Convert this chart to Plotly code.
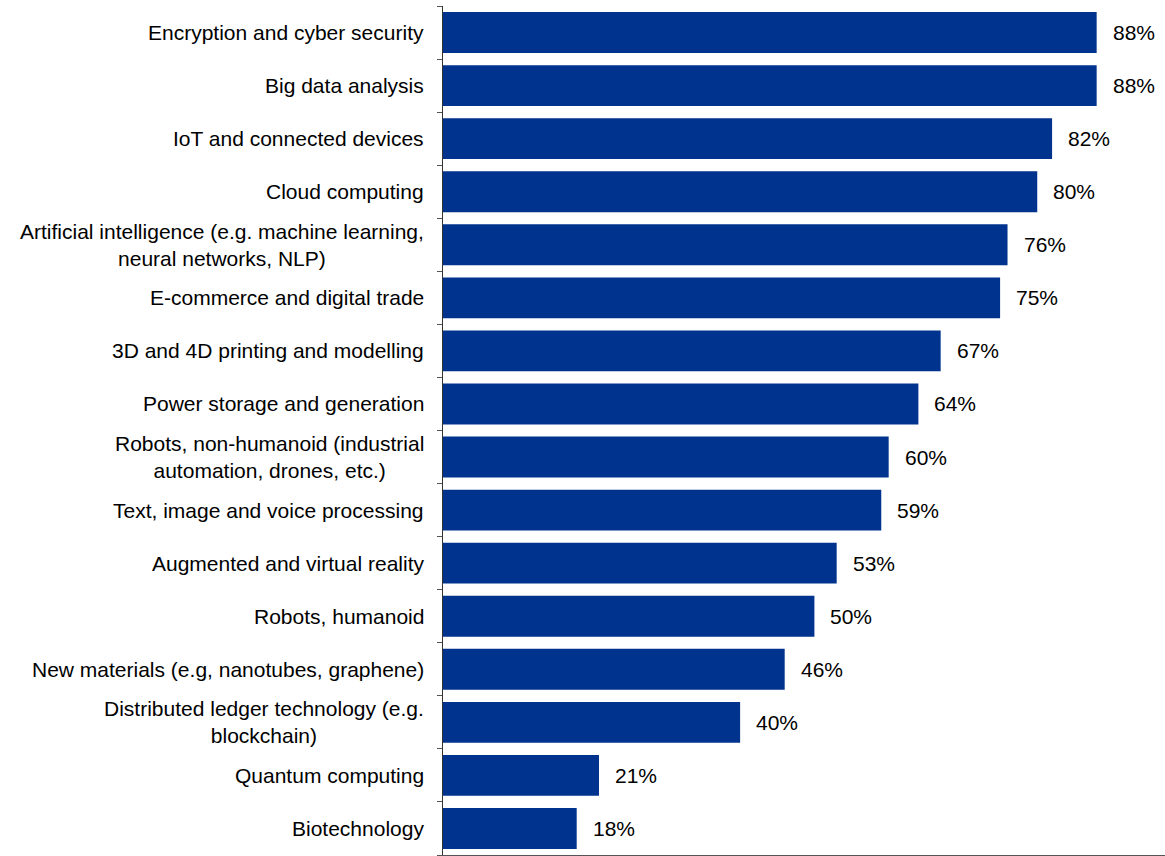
import plotly.graph_objects as go

# Share of respondents per technology (%)
categories = [
    "Encryption and cyber security",
    "Big data analysis",
    "IoT and connected devices",
    "Cloud computing",
    "Artificial intelligence (e.g. machine learning,<br>neural networks, NLP)",
    "E-commerce and digital trade",
    "3D and 4D printing and modelling",
    "Power storage and generation",
    "Robots, non-humanoid (industrial<br>automation, drones, etc.)",
    "Text, image and voice processing",
    "Augmented and virtual reality",
    "Robots, humanoid",
    "New materials (e.g, nanotubes, graphene)",
    "Distributed ledger technology (e.g.<br>blockchain)",
    "Quantum computing",
    "Biotechnology",
]
values = [88, 88, 82, 80, 76, 75, 67, 64, 60, 59, 53, 50, 46, 40, 21, 18]

BAR_COLOR = "#00338D"
FONT = dict(family="Liberation Sans, Arial, sans-serif", size=21, color="#000000")

positions = list(range(len(categories)))

fig = go.Figure(
    go.Bar(
        x=values,
        y=positions,
        orientation="h",
        width=0.77,
        marker=dict(color=BAR_COLOR, line=dict(width=0)),
        hoverinfo="skip",
    )
)

annotations = []
for pos, cat, val in zip(positions, categories, values):
    # category name, right-aligned against the axis, multi-line centred
    annotations.append(dict(
        x=0, xref="paper", y=pos, yref="y",
        text=cat, showarrow=False, xanchor="right", yanchor="middle",
        align="center", xshift=-17, font=FONT,
    ))
    # value label just past the bar end
    annotations.append(dict(
        x=val, xref="x", y=pos, yref="y",
        text=f"{val}%", showarrow=False, xanchor="left", yanchor="middle",
        xshift=14, font=FONT,
    ))

fig.update_layout(
    width=1165,
    height=856,
    margin=dict(l=443, r=0, t=6, b=1),
    paper_bgcolor="white",
    plot_bgcolor="white",
    showlegend=False,
    annotations=annotations,
    font=FONT,
)

fig.update_xaxes(
    range=[0, 97.2],
    showgrid=False,
    zeroline=False,
    showticklabels=False,
    ticks="",
    showline=True,
    linecolor="#555555",
    linewidth=1,
    fixedrange=True,
)

fig.update_yaxes(
    range=[len(categories) - 0.5, -0.5],
    tickmode="array",
    tickvals=[p - 0.5 for p in positions] + [len(categories) - 0.5],
    ticktext=[""] * (len(categories) + 1),
    ticks="outside",
    ticklen=5,
    tickcolor="#555555",
    tickwidth=1,
    showgrid=False,
    zeroline=False,
    showline=True,
    linecolor="#333333",
    linewidth=1,
    fixedrange=True,
)

fig.write_html("out.html")
